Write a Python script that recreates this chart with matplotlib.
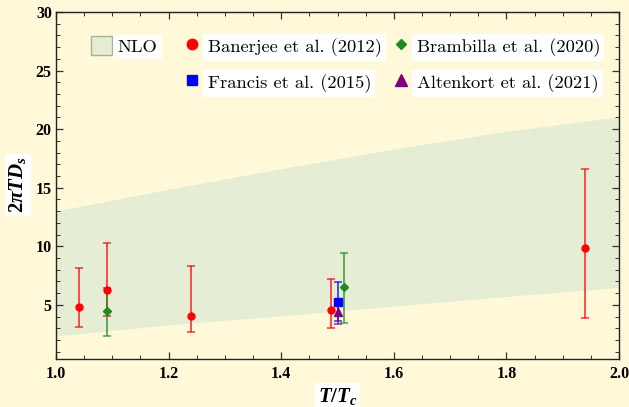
import numpy as np
import matplotlib
matplotlib.use("Agg")
import matplotlib.pyplot as plt
from matplotlib.lines import Line2D
from matplotlib.patches import Patch
from matplotlib.ticker import MultipleLocator
from matplotlib.colors import to_rgba

plt.rcParams.update({"mathtext.fontset": "custom",
                     "mathtext.it": "Liberation Serif:italic:bold",
                     "mathtext.rm": "Liberation Serif:bold",
                     "mathtext.bf": "Liberation Serif:bold"})

bg = "#FFF9D9"
band_col = "#E5EDD5"

# NLO band
nlo_T = [1.0, 1.2, 1.4, 1.6, 1.8, 2.0]
nlo_lo = [2.34, 3.3, 4.05, 4.9, 5.71, 6.5]
nlo_hi = [13.0, 14.87, 16.63, 18.3, 19.82, 21.05]

# lattice points: T/Tc, central value, lower end, upper end
banerjee_T = [1.04, 1.09, 1.24, 1.488, 1.94]
banerjee_D = [4.80, 6.26, 4.06, 4.55, 9.89]
banerjee_lo = [3.14, 4.06, 2.69, 3.03, 3.91]
banerjee_hi = [8.11, 10.26, 8.28, 7.17, 16.57]

brambilla_T = [1.09, 1.511]
brambilla_D = [4.46, 6.48]
brambilla_lo = [2.34, 3.46]
brambilla_hi = [6.43, 9.43]

francis_T = [1.50]
francis_D = [5.28]
francis_lo = [3.65]
francis_hi = [6.91]

altenkort_T = [1.50]
altenkort_D = [4.43]
altenkort_lo = [3.35]
altenkort_hi = [5.4]

fig = plt.figure(figsize=(6.29, 4.07), dpi=100, facecolor=bg)
ax = fig.add_axes([56/629, 1-359.3/407, 563/629, 347.3/407])
ax.set_facecolor(bg)

ax.fill_between(nlo_T, nlo_lo, nlo_hi, color=band_col, lw=0, zorder=1)


def draw(T, D, lo, hi, col, mk, ms):
    D = np.array(D)
    err = [D - np.array(lo), np.array(hi) - D]
    ax.errorbar(T, D, yerr=err, fmt=mk, color=col, ms=ms, mec=col,
                ecolor=to_rgba(col, 0.8), elinewidth=1.2, capsize=3,
                capthick=1.1, zorder=3)


draw(banerjee_T, banerjee_D, banerjee_lo, banerjee_hi, "#FF0000", "o", 5)
draw(brambilla_T, brambilla_D, brambilla_lo, brambilla_hi, "#1E8B1E", "D", 4.3)
draw(francis_T, francis_D, francis_lo, francis_hi, "#0000FF", "s", 5.5)
draw(altenkort_T, altenkort_D, altenkort_lo, altenkort_hi, "#800080", "^", 6)

ax.set_xlim(1.0, 2.0)
ax.set_ylim(0.35, 30)
ax.xaxis.set_major_locator(MultipleLocator(0.2))
ax.xaxis.set_minor_locator(MultipleLocator(0.05))
ax.yaxis.set_major_locator(MultipleLocator(5))
ax.yaxis.set_minor_locator(MultipleLocator(1))
ax.set_yticks([5, 10, 15, 20, 25, 30])
ax.tick_params(which="both", direction="in", top=True, right=True, color="#333333")
ax.tick_params(which="major", length=5, width=0.9)
ax.tick_params(which="minor", length=3, width=0.7)
ax.tick_params(axis="x", pad=5)
ax.tick_params(axis="y", pad=3)
for lab in ax.get_xticklabels() + ax.get_yticklabels():
    lab.set_fontfamily("Liberation Serif")
    lab.set_fontweight("bold")
    lab.set_fontsize(11.5)
for s in ax.spines.values():
    s.set_color("#222222")
    s.set_linewidth(1.0)

white = dict(facecolor="white", edgecolor="none", pad=2)
ax.set_xlabel(r"$T/T_c$", fontsize=15, bbox=white)
ax.xaxis.set_label_coords(0.5, -0.106)
ax.xaxis.label.set_verticalalignment("center")
ax.set_ylabel(r"$2\pi TD_s$", fontsize=15, bbox=white)
ax.yaxis.set_label_coords(-0.0675, 0.502)
ax.yaxis.label.set_verticalalignment("center")

handles = [Patch(facecolor=band_col, edgecolor="#A8B096", lw=1.0),
           Line2D([], [], ls="none"),
           Line2D([], [], ls="none", marker="o", color="#FF0000", ms=7.5),
           Line2D([], [], ls="none", marker="s", color="#0000FF", ms=7.5),
           Line2D([], [], ls="none", marker="D", color="#1E8B1E", ms=5.5),
           Line2D([], [], ls="none", marker="^", color="#800080", ms=8)]
# the blank entry is padded with spaces so the first column is as wide as in the original
labels = ["NLO", " " * 9, "Banerjee et al. (2012)", "Francis et al. (2015)",
          "Brambilla et al. (2020)", "Altenkort et al. (2021)"]
leg = ax.legend(handles, labels, ncol=3, loc="upper left",
                bbox_to_anchor=(0.062, 0.93), frameon=False, borderpad=0,
                borderaxespad=0, prop={"family": "cmr10", "size": 13.3},
                handlelength=1.14, handleheight=1.14, handletextpad=0.3,
                columnspacing=0.46, labelspacing=0.87)
for t in leg.get_texts():
    if t.get_text().strip():
        t.set_bbox(dict(facecolor="white", edgecolor="none", pad=3))

plt.savefig("out.png", dpi=100, facecolor=bg)
